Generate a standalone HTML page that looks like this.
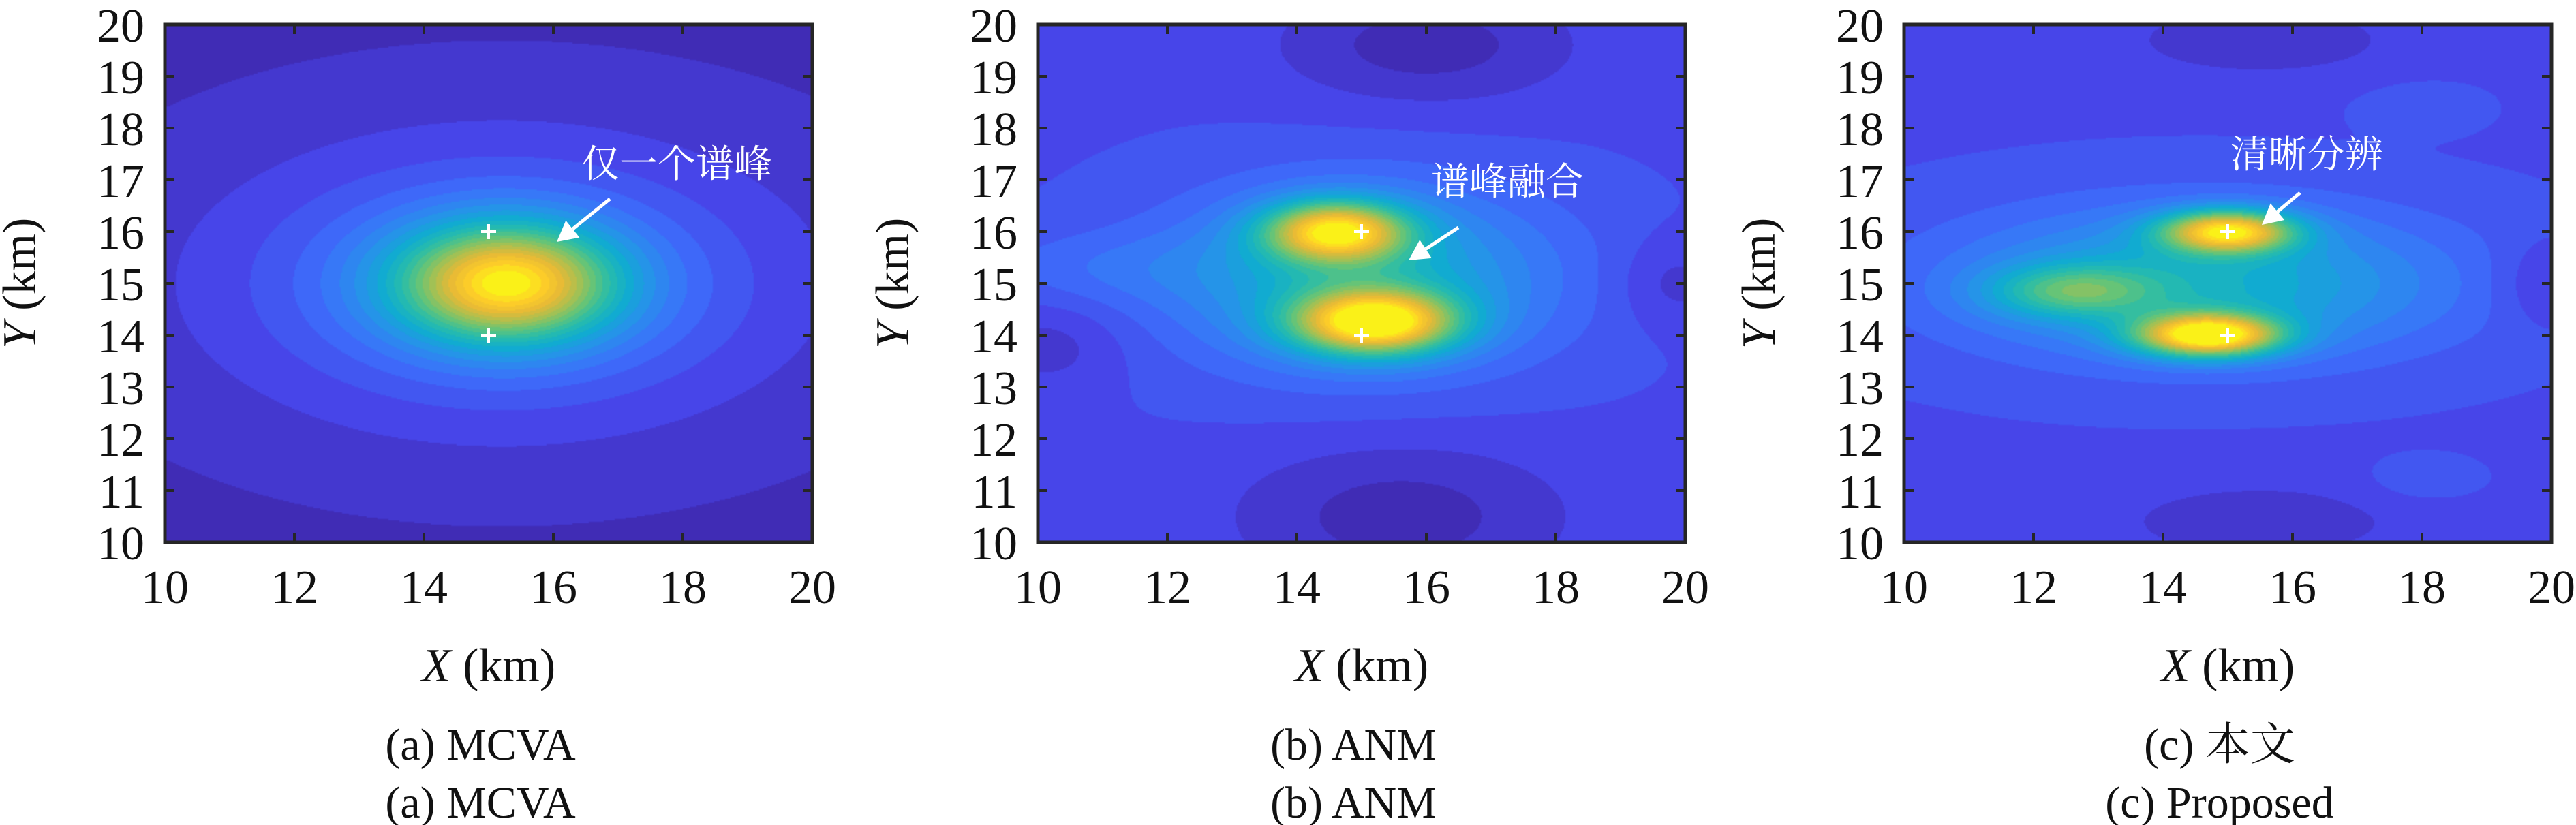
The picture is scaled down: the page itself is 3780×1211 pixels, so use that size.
<!DOCTYPE html>
<html><head><meta charset="utf-8">
<style>
html,body{margin:0;padding:0;background:#fff;}
#root{position:relative;width:3780px;height:1211px;overflow:hidden;}
canvas{position:absolute;}
svg{position:absolute;left:0;top:0;}
</style></head>
<body>
<div id="root">
<canvas id="c0"></canvas>
<canvas id="c1"></canvas>
<canvas id="c2"></canvas>
<svg id="ov" width="3780" height="1211"></svg>
</div>
<script>
// ---- data ----
const xTicks = [10,12,14,16,18,20];
const yTicks = [10,11,12,13,14,15,16,17,18,19,20];
const targetsX = [15,15];
const targetsY = [16,14];
// blobs per panel: [cx, cy, amp, sx, sy, type] type 0=gaussian 1=lorentzian
const blobsA = [[15.3,15.0,0.55,1.1,0.75,0],[15.2,15.0,0.45,2.4,1.5,1]];
const blobsB = [[14.6,16.0,0.7,0.75,0.4,0],[15.2,14.25,0.8,0.85,0.42,0],[15.0,15.1,0.3,2.0,1.2,0],
  [16.0,19.6,-0.1,1.6,0.8,0],[15.6,10.5,-0.1,1.8,1.0,0],[10.2,13.8,-0.06,0.8,0.6,0],[19.8,15.0,-0.06,0.6,0.6,0],[11.0,15.3,0.06,1.5,0.5,0]];
const blobsC = [[15.0,16.0,0.72,0.7,0.28,0],[14.7,14.0,0.85,0.75,0.28,0],[12.6,14.85,0.3,0.9,0.35,0],[14.6,15.0,0.3,2.6,1.0,0],
  [15.5,19.7,-0.07,1.5,0.5,0],[15.5,10.4,-0.06,1.8,0.6,0],[19.8,15.0,-0.06,0.5,0.6,0],[18.0,11.2,0.04,0.6,0.3,0],[18.0,18.4,0.04,0.6,0.3,0]];
const bases = [0.0,0.12,0.12];
const titles1 = ["(a) MCVA","(b) ANM","(c) 本文"];
const titles2 = ["(a) MCVA","(b) ANM","(c) Proposed"];
const notes = ["仅一个谱峰","谱峰融合","清晰分辨"];

// ---- layout ----
const panelsL = [242,1523,2794], PW = 950, PT = 36, PH = 760;
const noteX = [993,2212,3385], noteY = [240,266,226];
const arrows = [[895,292,817,355],[2140,334,2067,382],[3375,283,3319,330]];
const SERIF = '"Liberation Serif","DejaVu Serif","Noto Serif CJK SC",serif';

const parula = [[62,38,168],[71,68,232],[61,110,252],[40,145,235],[16,172,208],[40,188,170],[100,196,120],[170,192,80],[230,185,55],[253,205,40],[249,251,20]];
function cmap(v){v=Math.max(0,Math.min(1,v));const p=v*10,i=Math.min(9,Math.floor(p)),f=p-i;
 const a=parula[i],b=parula[i+1];return [a[0]+(b[0]-a[0])*f,a[1]+(b[1]-a[1])*f,a[2]+(b[2]-a[2])*f];}
function field(bl,base,x,y){let s=base;for(const b of bl){const dx=(x-b[0])/b[3],dy=(y-b[1])/b[4],r=dx*dx+dy*dy;
 s+= b[5]?b[2]/(1+r):b[2]*Math.exp(-r/2);}return s;}
const all=[blobsA,blobsB,blobsC];
const sx=v=>(v-10)/10, sy=v=>1-(v-10)/10;
for(let k=0;k<3;k++){
 const c=document.getElementById('c'+k);const W=475,H=380;c.width=W;c.height=H;
 c.style.left=panelsL[k]+'px';c.style.top=PT+'px';c.style.width=PW+'px';c.style.height=PH+'px';
 const ctx=c.getContext('2d');const img=ctx.createImageData(W,H);
 for(let j=0;j<H;j++)for(let i=0;i<W;i++){const x=10+10*(i+0.5)/W,y=20-10*(j+0.5)/H;
  let v=field(all[k],bases[k],x,y);v=Math.floor(Math.max(0,Math.min(0.999,v))*24)/24+0.02;
  const col=cmap(v);const o=(j*W+i)*4;img.data[o]=col[0];img.data[o+1]=col[1];img.data[o+2]=col[2];img.data[o+3]=255;}
 ctx.putImageData(img,0,0);
}
const NS='http://www.w3.org/2000/svg',ov=document.getElementById('ov');
function mk(t,at,txt){const e=document.createElementNS(NS,t);for(const a in at)e.setAttribute(a,at[a]);if(txt!=null)e.textContent=txt;ov.appendChild(e);return e;}
for(let k=0;k<3;k++){
 const L=panelsL[k];const X=v=>L+sx(v)*PW,Y=v=>PT+sy(v)*PH;
 let e=mk('rect',{x:L,y:PT,width:PW,height:PH,fill:'none',stroke:'#262626','stroke-width':5});
 
 
 for(const t of xTicks){
  e=mk('line',{x1:X(t),x2:X(t),y1:PT+PH,y2:PT+PH-14,stroke:'#262626','stroke-width':4});
  
  
  mk('line',{x1:X(t),x2:X(t),y1:PT,y2:PT+14,stroke:'#262626','stroke-width':4});
  e=mk('text',{x:X(t),y:885,'font-size':70,'text-anchor':'middle','font-family':SERIF,fill:'#111'},t);
  
  
 }
 for(const t of yTicks){
  e=mk('line',{x1:L,x2:L+14,y1:Y(t),y2:Y(t),stroke:'#262626','stroke-width':4});
  
  
  mk('line',{x1:L+PW,x2:L+PW-14,y1:Y(t),y2:Y(t),stroke:'#262626','stroke-width':4});
  e=mk('text',{x:L-30,y:Y(t)+25,'font-size':70,'text-anchor':'end','font-family':SERIF,fill:'#111'},t);
  
  
 }
 e=mk('text',{x:L+PW/2,y:1000,'font-size':70,'text-anchor':'middle','font-family':SERIF,fill:'#111'});
 e.innerHTML='<tspan font-style="italic">X</tspan> (km)';
 
 
 e=mk('text',{x:0,y:0,'font-size':70,'text-anchor':'middle','font-family':SERIF,fill:'#111',transform:`translate(${L-190},${PT+PH/2}) rotate(-90)`});
 e.innerHTML='<tspan font-style="italic">Y</tspan> (km)';
 
 
 e=mk('text',{x:L+PW/2-12,y:1115,'font-size':66,'text-anchor':'middle','font-family':SERIF,fill:'#111'},titles1[k]);
 
 
 e=mk('text',{x:L+PW/2-12,y:1200,'font-size':66,'text-anchor':'middle','font-family':SERIF,fill:'#111'},titles2[k]);
 
 
 for(let m=0;m<targetsX.length;m++){
  const cx=X(targetsX[m]),cy=Y(targetsY[m]);
  e=mk('path',{d:`M${cx-11},${cy}H${cx+11}M${cx},${cy-11}V${cy+11}`,stroke:'#fff','stroke-width':4});
  
  
 }
 e=mk('text',{x:noteX[k],y:noteY[k]+20,'font-size':56,'text-anchor':'middle','font-family':'"Noto Serif CJK SC","Noto Sans CJK SC",serif',fill:'#fff'},notes[k]);
 
 
 const a=arrows[k];const dx=a[2]-a[0],dy=a[3]-a[1],len=Math.hypot(dx,dy),ux=dx/len,uy=dy/len;
 const bx=a[2]-ux*30,by=a[3]-uy*30;
 e=mk('line',{x1:a[0],y1:a[1],x2:bx,y2:by,stroke:'#fff','stroke-width':5});
 
 
 mk('polygon',{points:`${a[2]},${a[3]} ${bx-uy*16},${by+ux*16} ${bx+uy*16},${by-ux*16}`,fill:'#fff'});
}
</script>
</body></html>
